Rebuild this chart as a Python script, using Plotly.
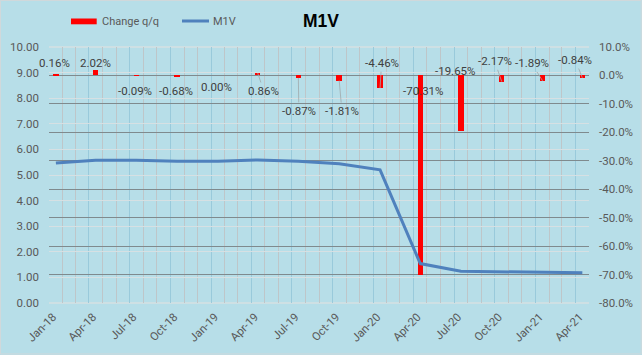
import plotly.graph_objects as go
import pandas as pd

# ---------------- data ----------------
quarters = ["2018-01-01", "2018-04-01", "2018-07-01", "2018-10-01",
            "2019-01-01", "2019-04-01", "2019-07-01", "2019-10-01",
            "2020-01-01", "2020-04-01", "2020-07-01", "2020-10-01",
            "2021-01-01", "2021-04-01"]
quarter_labels = ["Jan-18", "Apr-18", "Jul-18", "Oct-18", "Jan-19", "Apr-19",
                  "Jul-19", "Oct-19", "Jan-20", "Apr-20", "Jul-20", "Oct-20",
                  "Jan-21", "Apr-21"]
m1v = [5.47, 5.58, 5.58, 5.54, 5.54, 5.59, 5.54, 5.44, 5.20,
       1.54, 1.24, 1.21, 1.19, 1.18]
change_pct = [0.16, 2.02, -0.09, -0.68, 0.00, 0.86, -0.87, -1.81, -4.46,
              -70.31, -19.65, -2.17, -1.89, -0.84]

left_tickvals = [0, 1, 2, 3, 4, 5, 6, 7, 8, 9, 10]
left_ticktext = ["0.00", "1.00", "2.00", "3.00", "4.00", "5.00",
                 "6.00", "7.00", "8.00", "9.00", "10.00"]
right_tickvals = [0.1, 0.0, -0.1, -0.2, -0.3, -0.4, -0.5, -0.6, -0.7, -0.8]
right_ticktext = ["10.0%", "0.0%", "-10.0%", "-20.0%", "-30.0%", "-40.0%",
                  "-50.0%", "-60.0%", "-70.0%", "-80.0%"]

# label placement styles (pixel offsets from bar end) and leader flags
label_dx = [-1, 0, -1, -1, -1, 6, 0.5, 2.7, 1.5, 3, -5, -7, -11, -7]
label_dy = [-12, -6.5, 15, 13.5, 12, 18, 33, 30.5, -25, -184, -60.5, -20.3, -17.5, -17.8]
leader = [False, False, False, False, False, True, True, True, True,
          False, False, True, True, True]

# ---------------- styles ----------------
BG = "#B7DEE8"
FONT = "Roboto, Liberation Sans, sans-serif"
TXT = "#404040"
AX = "#595959"
RED = "#FF0000"
BLUE = "#4F81BD"
LIGHTGRID = "#D6E0E3"

# plot area in pixels (for layout-only helpers: legend, border)
L, R, T, B = 49, 589, 47, 303
W, H = 642, 355


def px(x):
    return (x - L) / (R - L)


def py(y):
    return (B - y) / (B - T)


fig = go.Figure()

fig.add_trace(go.Bar(
    x=quarters, y=[v / 100 for v in change_pct],
    xperiod="M1", xperiodalignment="middle",
    yaxis="y", marker=dict(color=RED, line=dict(width=0)),
    width=12.3 * 86400000, name="Change q/q",
))
fig.add_trace(go.Scatter(
    x=quarters, y=m1v, mode="lines",
    xperiod="M1", xperiodalignment="middle",
    yaxis="y2", line=dict(color=BLUE, width=3), name="M1V",
))

annotations = []
for q, v, dx, dy, ld in zip(quarters, change_pct, label_dx, label_dy, leader):
    d = pd.Timestamp(q)
    mid = d + (d + pd.offsets.MonthBegin(1) - d) / 2
    base = dict(x=mid.strftime("%Y-%m-%d %H:%M"), y=v / 100, xref="x", yref="y",
                text=f"{v:.2f}%", font=dict(family=FONT, size=11.5, color=TXT))
    if ld:
        base.update(showarrow=True, ax=dx, ay=dy, arrowhead=0, arrowwidth=0.8,
                    arrowcolor="#A0A8AB", standoff=0, startstandoff=0)
    else:
        base.update(showarrow=False, xshift=dx, yshift=-dy)
    annotations.append(base)

# legend (drawn as layout items)
annotations.append(dict(x=px(100), y=py(21), xref="paper", yref="paper",
                        text="Change q/q", showarrow=False, xanchor="left",
                        yanchor="middle", font=dict(family=FONT, size=11, color=AX)))
annotations.append(dict(x=px(211), y=py(21), xref="paper", yref="paper",
                        text="M1V", showarrow=False, xanchor="left",
                        yanchor="middle", font=dict(family=FONT, size=11, color=AX)))

shapes = [
    dict(type="rect", xref="paper", yref="paper", x0=px(71), x1=px(96.7),
         y0=py(24.3), y1=py(18.5), fillcolor=RED, line=dict(width=0)),
    dict(type="line", xref="paper", yref="paper", x0=px(182), x1=px(209),
         y0=py(21), y1=py(21), line=dict(color=BLUE, width=3)),
    dict(type="rect", xref="paper", yref="paper", x0=px(0.5), x1=px(W - 0.8),
         y0=py(0.5), y1=py(H - 1), line=dict(color="#D0D8DB", width=1),
         fillcolor="rgba(0,0,0,0)", layer="below"),
    # light edge lines over the secondary axis' edge gridlines
    dict(type="line", xref="paper", yref="paper", x0=0, x1=1, y0=0, y1=0,
         line=dict(color=LIGHTGRID, width=1.5), layer="between"),
    dict(type="line", xref="paper", yref="paper", x0=0, x1=1, y0=1, y1=1,
         line=dict(color=LIGHTGRID, width=1.5), layer="between"),
]

fig.update_layout(
    width=W, height=H,
    margin=dict(l=L, r=W - R, t=T, b=H - B, pad=0, autoexpand=False),
    paper_bgcolor=BG, plot_bgcolor=BG,
    showlegend=False,
    bargap=0,
    title=dict(text="<b>M1V</b>", x=321 / W, xanchor="center", xref="container",
               y=1 - 20.7 / H, yanchor="middle", yref="container",
               font=dict(family="Liberation Sans, sans-serif", size=17.5, color="#000000")),
    xaxis=dict(
        type="date", range=["2018-01-01", "2021-05-01"], automargin=False,
        tickmode="array", tickvals=quarters, ticktext=quarter_labels,
        tickangle=-45, ticklabelshift=4, ticklabelstandoff=4, ticks="",
        tickfont=dict(family=FONT, size=11.5, color=AX),
        showgrid=True, gridcolor="#99CADB", gridwidth=1,
        minor=dict(dtick="M1", tick0="2018-01-01", showgrid=True,
                   gridcolor="#BEC6C9", gridwidth=1, ticks=""),
        showline=False, zeroline=False,
    ),
    yaxis=dict(
        range=[-0.8, 0.1], side="right", automargin=False,
        tickmode="array", tickvals=right_tickvals, ticktext=right_ticktext,
        tickfont=dict(family=FONT, size=11.5, color=AX),
        showgrid=True, gridcolor="#7F8A8E", gridwidth=1,
        zeroline=False, showline=False, ticks="", ticklabelstandoff=9,
    ),
    yaxis2=dict(
        range=[0, 10], side="left", overlaying="y", automargin=False,
        tickmode="array", tickvals=left_tickvals, ticktext=left_ticktext,
        tickfont=dict(family=FONT, size=11.5, color=AX),
        showgrid=True, gridcolor=LIGHTGRID, gridwidth=1,
        zeroline=False, showline=False, ticks="", ticklabelstandoff=9,
    ),
    annotations=annotations,
    shapes=shapes,
)

fig.write_html("out.html", config={"displayModeBar": False},
               post_script="document.body.style.margin='0';")
